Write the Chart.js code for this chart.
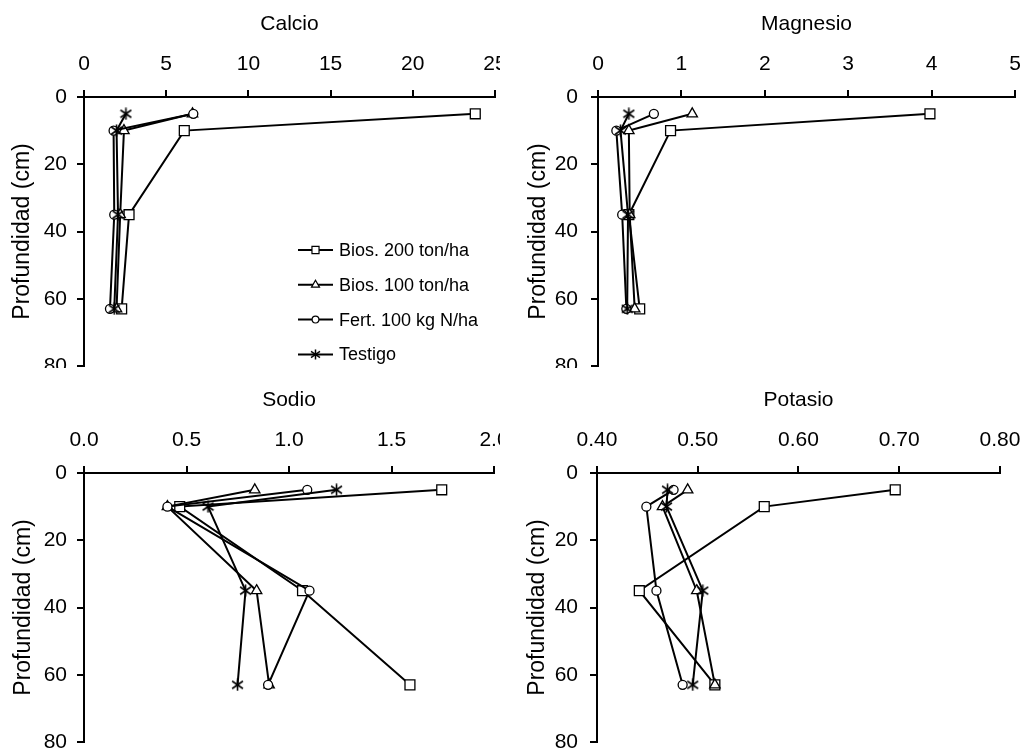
<!DOCTYPE html>
<html>
<head>
<meta charset="utf-8">
<title>Perfiles de cationes por profundidad</title>
<script src="https://cdn.jsdelivr.net/npm/chart.js@4/dist/chart.umd.min.js"></script>
<style>
  html, body { margin: 0; padding: 0; background: #fff; width: 1024px; height: 751px; overflow: hidden; }
  .panel { position: absolute; overflow: hidden; background: #fff; }
  .panel canvas { display: block; }
</style>
</head>
<body>
<div class="panel" style="left:0;top:0;width:500px;height:368px"><canvas id="cCalcio" width="530" height="400"></canvas></div>
<div class="panel" style="left:500px;top:0;width:524px;height:368px"><canvas id="cMagnesio" width="540" height="400"></canvas></div>
<div class="panel" style="left:0;top:376px;width:500px;height:375px"><canvas id="cSodio" width="530" height="400"></canvas></div>
<div class="panel" style="left:500px;top:376px;width:524px;height:375px"><canvas id="cPotasio" width="540" height="400"></canvas></div>
<script>
// Sampling depths (cm) shared by every series
const depths = [5, 10, 35, 63];
const seriesNames = ['Bios. 200 ton/ha', 'Bios. 100 ton/ha', 'Fert. 100 kg N/ha', 'Testigo'];
const depthTicks = [0, 20, 40, 60, 80];

// Calcio
const calcioBios200 = [23.8, 6.1, 2.74, 2.29];
const calcioBios100 = [6.6, 2.43, 2.2, 1.98];
const calcioFert = [6.65, 1.8, 1.84, 1.58];
const calcioTestigo = [2.55, 1.98, 2.07, 1.84];
const calcioTicks = [0, 5, 10, 15, 20, 25];

// Magnesio
const magnesioBios200 = [3.98, 0.87, 0.37, 0.50];
const magnesioBios100 = [1.13, 0.37, 0.38, 0.44];
const magnesioFert = [0.67, 0.22, 0.29, 0.34];
const magnesioTestigo = [0.37, 0.27, 0.36, 0.35];
const magnesioTicks = [0, 1, 2, 3, 4, 5];

// Sodio
const sodioBios200 = [1.745, 0.467, 1.066, 1.59];
const sodioBios100 = [0.833, 0.407, 0.842, 0.903];
const sodioFert = [1.089, 0.407, 1.10, 0.898];
const sodioTestigo = [1.232, 0.605, 0.788, 0.749];
const sodioTicks = [0.0, 0.5, 1.0, 1.5, 2.0];

// Potasio
const potasioBios200 = [0.696, 0.566, 0.442, 0.517];
const potasioBios100 = [0.490, 0.465, 0.499, 0.517];
const potasioFert = [0.476, 0.449, 0.459, 0.485];
const potasioTestigo = [0.470, 0.469, 0.505, 0.495];
const potasioTicks = [0.40, 0.50, 0.60, 0.70, 0.80];

const FONT = '"Liberation Sans", Arial, sans-serif';
Chart.defaults.font.family = FONT;
Chart.defaults.color = '#000';

// Six-spoke asterisk marker (vertical bar plus an X)
function makeAsterisk(size, lw) {
  const c = document.createElement('canvas');
  c.width = size; c.height = size;
  const g = c.getContext('2d');
  const m = size / 2, r = size / 2 - 0.5;
  g.strokeStyle = '#000';
  g.lineWidth = lw;
  g.lineCap = 'butt';
  g.beginPath();
  g.moveTo(m, m - r); g.lineTo(m, m + r);
  g.moveTo(m - r * 0.9, m - r * 0.62); g.lineTo(m + r * 0.9, m + r * 0.62);
  g.moveTo(m + r * 0.9, m - r * 0.62); g.lineTo(m - r * 0.9, m + r * 0.62);
  g.stroke();
  return c;
}
const asteriskBig = makeAsterisk(13, 1.6);
const asteriskSmall = makeAsterisk(11, 1.5);

const markerStyles = ['rect', 'triangle', 'circle', asteriskBig];
const legendStyles = ['rect', 'triangle', 'circle', asteriskSmall];
const markerRadii = [7, 6, 4.5, 6.5];
const legendRadii = [5, 4.6, 3.4, 5.5];

function buildDatasets(seriesValues) {
  return seriesValues.map((vals, i) => ({
    label: seriesNames[i],
    data: vals.map((v, j) => ({ x: v, y: depths[j] })),
    showLine: true,
    tension: 0,
    borderColor: '#000',
    borderWidth: 2,
    pointStyle: markerStyles[i],
    pointRadius: markerRadii[i],
    pointHoverRadius: markerRadii[i],
    pointBackgroundColor: '#fff',
    pointBorderColor: '#000',
    pointBorderWidth: 1.3,
    order: seriesValues.length - 1 - i
  }));
}

// Legend drawn inside the plot: line sample with the marker in the middle
const innerLegend = {
  id: 'innerLegend',
  afterDraw(chart, args, opts) {
    if (!opts || !opts.show) return;
    const ctx = chart.ctx;
    const area = chart.chartArea;
    const x0 = area.left + opts.dx, x1 = x0 + 35, xm = (x0 + x1) / 2;
    ctx.save();
    chart.data.datasets.forEach((ds, i) => {
      const y = area.top + opts.dy + i * opts.gap;
      ctx.strokeStyle = '#000';
      ctx.lineWidth = 2;
      ctx.beginPath();
      ctx.moveTo(x0, y); ctx.lineTo(x1, y);
      ctx.stroke();
      ctx.fillStyle = '#fff';
      ctx.strokeStyle = '#000';
      ctx.lineWidth = 1.2;
      Chart.helpers.drawPoint(ctx, { pointStyle: legendStyles[i], radius: legendRadii[i], borderWidth: 1.2, rotation: 0 }, xm, y);
      ctx.fillStyle = '#000';
      ctx.font = '18px ' + FONT;
      ctx.textAlign = 'left';
      ctx.textBaseline = 'middle';
      ctx.fillText(ds.label, x1 + 6, y + 1);
    });
    ctx.restore();
  }
};

function makePanel(id, title, seriesValues, xTicks, decimals, L) {
  const el = document.getElementById(id);
  return new Chart(el, {
    type: 'scatter',
    data: { datasets: buildDatasets(seriesValues) },
    plugins: [innerLegend],
    options: {
      responsive: false,
      animation: false,
      devicePixelRatio: 1,
      layout: { padding: { left: 0, top: 0, right: el.width - L.right, bottom: el.height - 366 } },
      plugins: {
        legend: { display: false },
        tooltip: { enabled: false },
        innerLegend: L.legend || { show: false }
      },
      scales: {
        x: {
          type: 'linear',
          position: 'top',
          min: xTicks[0],
          max: xTicks[xTicks.length - 1],
          afterBuildTicks: s => { s.ticks = xTicks.map(v => ({ value: v })); },
          afterFit: s => { s.height = 97; },
          ticks: {
            padding: 13,
            maxRotation: 0,
            autoSkip: false,
            font: { size: 21 },
            callback: v => Number(v).toFixed(decimals)
          },
          title: { display: true, text: title, font: { size: 21 }, padding: { top: 12, bottom: 0 } },
          grid: { display: true, drawOnChartArea: false, drawTicks: true, tickLength: 7, color: '#000', lineWidth: 2 },
          border: { display: true, color: '#000', width: 2 }
        },
        y: {
          type: 'linear',
          position: 'left',
          reverse: true,
          min: depthTicks[0],
          max: depthTicks[depthTicks.length - 1],
          afterBuildTicks: s => { s.ticks = depthTicks.map(v => ({ value: v })); },
          afterFit: s => { s.width = L.left; },
          ticks: { padding: L.tickPad, font: { size: 21 }, autoSkip: false },
          title: { display: true, text: 'Profundidad (cm)', font: { size: 23 }, padding: { top: L.titlePad, bottom: 0 } },
          grid: { display: true, drawOnChartArea: false, drawTicks: true, tickLength: 7, color: '#000', lineWidth: 2 },
          border: { display: true, color: '#000', width: 2 }
        }
      }
    }
  });
}

makePanel('cCalcio', 'Calcio',
  [calcioBios200, calcioBios100, calcioFert, calcioTestigo], calcioTicks, 0,
  { left: 84, right: 495, tickPad: 10, titlePad: 9, legend: { show: true, dx: 214, dy: 153, gap: 34.8 } });

makePanel('cMagnesio', 'Magnesio',
  [magnesioBios200, magnesioBios100, magnesioFert, magnesioTestigo], magnesioTicks, 0,
  { left: 98, right: 515, tickPad: 13, titlePad: 25 });

makePanel('cSodio', 'Sodio',
  [sodioBios200, sodioBios100, sodioFert, sodioTestigo], sodioTicks, 1,
  { left: 84, right: 494, tickPad: 10, titlePad: 10 });

makePanel('cPotasio', 'Potasio',
  [potasioBios200, potasioBios100, potasioFert, potasioTestigo], potasioTicks, 2,
  { left: 97, right: 500, tickPad: 12, titlePad: 24 });
</script>
</body>
</html>
